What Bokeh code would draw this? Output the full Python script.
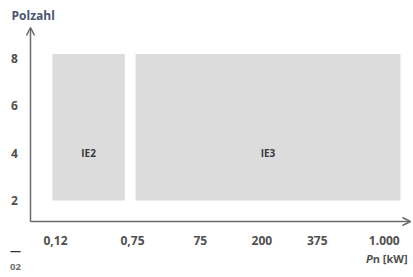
from bokeh.plotting import figure
from bokeh.models import Range1d, Arrow, OpenHead, ColumnDataSource
from bokeh.core.properties import value
from bokeh.embed import file_html
from bokeh.resources import INLINE

# ---- data ----
tick_labels = ["0,12", "0,75", "75", "200", "375", "1.000"]
tick_pos = [0.0, 1.0, 1.88, 2.68, 3.40, 4.27]
classes = ["IE2", "IE3"]
ie_left = [-0.04, 1.04]
ie_right = [0.90, 4.48]
ie_bottom = [2.0, 2.0]
ie_top = [8.18, 8.18]
label_y = [4, 4]
pol_ticks = [2, 4, 6, 8]

FONT = "Open Sans"
TXT = "#505050"
AX = "#6b6b6b"

X0, X1 = -0.7143, 4.6494
Y0, Y1 = -1.249, 10.439
AXIS_X = -0.3247   # y-axis position (data)
AXIS_Y = 1.114     # x-axis position (data)

p = figure(width=413, height=277, output_backend="svg", toolbar_location=None,
           x_range=Range1d(X0, X1), y_range=Range1d(Y0, Y1),
           min_border=0, x_axis_type=None, y_axis_type=None)
p.outline_line_color = None
p.grid.visible = False
p.background_fill_color = "white"
p.border_fill_color = "white"

src = ColumnDataSource(dict(left=ie_left, right=ie_right, bottom=ie_bottom, top=ie_top,
                            cls=classes,
                            cx=[(a + b) / 2 for a, b in zip(ie_left, ie_right)],
                            cy=label_y))
p.quad(left="left", right="right", bottom="bottom", top="top", source=src,
       fill_color="#dcdcdc", line_color=None)
p.text(x="cx", y="cy", text="cls", source=src, text_align="center", text_baseline="middle",
       text_font=value(FONT), text_font_size="10px", text_font_style="bold", text_color="#3a3a3a")

# axes with arrows
p.add_layout(Arrow(end=OpenHead(size=8, line_color=AX, line_width=1.5),
                   x_start=AXIS_X, y_start=AXIS_Y, x_end=4.61, y_end=AXIS_Y,
                   line_color=AX, line_width=1.5))
p.add_layout(Arrow(end=OpenHead(size=8, line_color=AX, line_width=1.5),
                   x_start=AXIS_X, y_start=AXIS_Y, x_end=AXIS_X, y_end=9.30,
                   line_color=AX, line_width=1.5))

# tick labels
xt = ColumnDataSource(dict(x=tick_pos, y=[0.312] * len(tick_pos), t=tick_labels))
p.text(x="x", y="y", text="t", source=xt, text_align="center", text_baseline="middle",
       text_font=value(FONT), text_font_size="12px", text_font_style="bold", text_color=TXT)
yt = ColumnDataSource(dict(x=[-0.532] * len(pol_ticks), y=pol_ticks, t=[str(v) for v in pol_ticks]))
p.text(x="x", y="y", text="t", source=yt, text_align="center", text_baseline="middle",
       text_font=value(FONT), text_font_size="12px", text_font_style="bold", text_color=TXT)

def txt(x, y, s, **kw):
    opts = dict(text_font=value(FONT), text_font_size="11px", text_color=TXT,
                text_baseline="middle", text_font_style="bold")
    opts.update(kw)
    p.text(x=[x], y=[y], text=[s], **opts)

txt(-0.571, 9.806, "Polzahl", text_color="#4a5670", text_align="left", text_font_size="12px")
txt(4.12, -0.447, "P", text_font_style="bold italic", text_align="right")
txt(4.12, -0.447, "n [kW]", text_align="left")
txt(-0.519, -0.068, "—", text_color="#333333", text_align="center")
txt(-0.519, -0.785, "02", text_font_size="9.5px", text_color="#707070", text_align="center")

open("out.html", "w").write(file_html(p, INLINE))
